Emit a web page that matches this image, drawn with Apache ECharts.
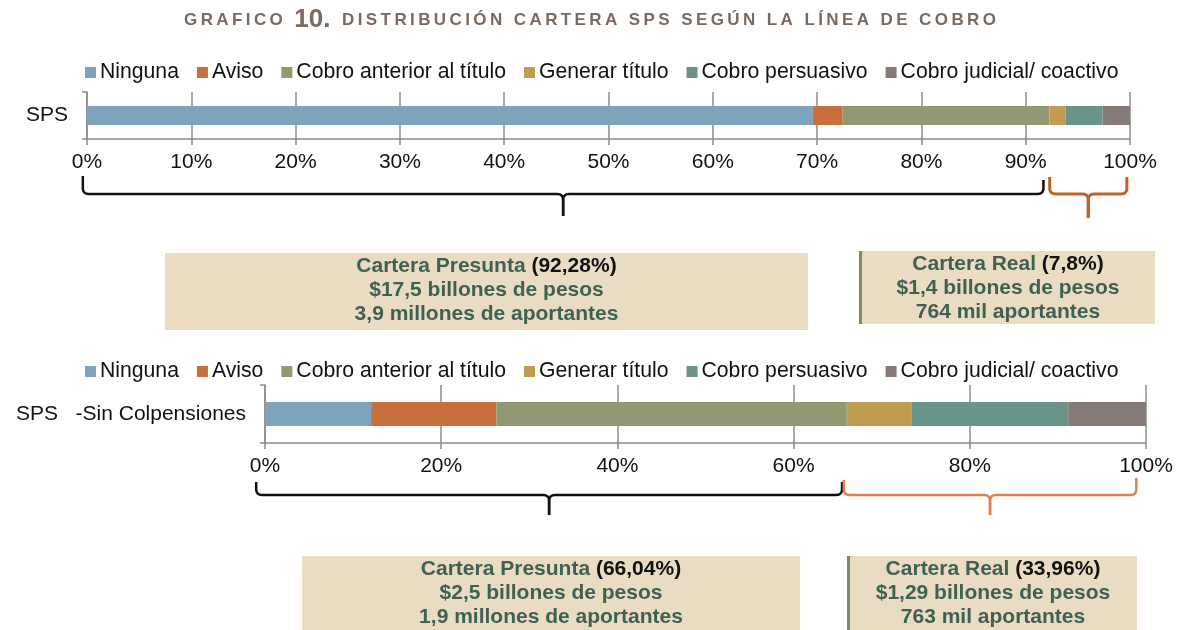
<!DOCTYPE html>
<html><head><meta charset="utf-8">
<script src="https://cdn.jsdelivr.net/npm/echarts@6/dist/echarts.min.js"></script>
<style>html,body{margin:0;padding:0;background:#fff}#c{width:1180px;height:630px}</style>
</head><body><div id="c"></div>
<script>
// ---- data ----
const seriesNames = ['Ninguna', 'Aviso', 'Cobro anterior al título', 'Generar título', 'Cobro persuasivo', 'Cobro judicial/ coactivo'];
const categoriesTop = ['SPS'];
const categoriesBottom = ['SPS   -Sin Colpensiones'];
const valuesTop = [69.6, 2.85, 19.83, 1.55, 3.55, 2.62];
const valuesBottom = [12.04, 14.22, 39.78, 7.39, 17.74, 8.83];
const tickStepTop = 10;
const tickStepBottom = 20;
const boxTop = {
  presunta: ['Cartera Presunta ', '(92,28%)', '$17,5 billones de pesos', '3,9 millones de aportantes'],
  real: ['Cartera Real ', '(7,8%)', '$1,4 billones de pesos', '764 mil aportantes']
};
const boxBottom = {
  presunta: ['Cartera Presunta ', '(66,04%)', '$2,5 billones de pesos', '1,9 millones de aportantes'],
  real: ['Cartera Real ', '(33,96%)', '$1,29 billones de pesos', '763 mil aportantes']
};
const titleParts = ['GRAFICO ', '10.', ' DISTRIBUCIÓN CARTERA SPS SEGÚN LA LÍNEA DE COBRO'];

// ---- styles ----
const colors = ['#7fa2bd', '#c8703b', '#929870', '#c09c50', '#6a9489', '#877b7a'];
const FONT = '"Liberation Sans", Arial, sans-serif';
const textGreen = '#3f6152';
const boxFill = '#eadcc2';
const FS = 21;

const chart = echarts.init(document.getElementById('c'), null, {renderer: 'canvas'});

function spaced(s) { return s.split('').join('\u2009'); }

function xAxisCfg(grid, step) {
  return {
    type: 'value', gridIndex: grid, min: 0, max: 100, interval: step,
    axisLabel: {formatter: '{value}%', color: '#111', fontSize: FS, fontFamily: FONT, margin: 13},
    axisLine: {show: true, lineStyle: {color: '#8c8c8c', width: 1.5}},
    axisTick: {show: true, length: 6, lineStyle: {color: '#8c8c8c', width: 1.5}},
    splitLine: {show: true, lineStyle: {color: '#8c8c8c', width: 1.5}}
  };
}
function yAxisCfg(grid, cats) {
  return {
    type: 'category', gridIndex: grid, data: cats,
    axisLabel: {color: '#111', fontSize: FS, fontFamily: FONT, margin: 19},
    axisLine: {show: true, lineStyle: {color: '#8c8c8c', width: 1.5}},
    axisTick: {show: true, length: 5, lineStyle: {color: '#8c8c8c', width: 1.5}}
  };
}
const series = [];
seriesNames.forEach((n, i) => {
  series.push({name: n, type: 'bar', stack: 'top', xAxisIndex: 0, yAxisIndex: 0, barWidth: 19,
    itemStyle: {color: colors[i]}, data: [valuesTop[i]], animation: false});
});
seriesNames.forEach((n, i) => {
  series.push({name: n, type: 'bar', stack: 'bottom', xAxisIndex: 1, yAxisIndex: 1, barWidth: 24,
    itemStyle: {color: colors[i]}, data: [valuesBottom[i]], animation: false});
});
const legendCfg = (top) => ({
  data: seriesNames, top: top, left: 85, padding: 0, itemWidth: 11, itemHeight: 11, itemGap: 18,
  icon: 'rect', textStyle: {fontSize: 21.2, fontFamily: FONT, color: '#111', padding: [0, 0, 0, -1]}
});

chart.setOption({
  animation: false,
  color: colors,
  title: {
    text: '{a|' + spaced(titleParts[0]) + '\u2009}{b|' + titleParts[1] + '}{a|\u2009' + spaced(titleParts[2]) + '}',
    left: 'center', top: 2,
    textStyle: {rich: {
      a: {fontSize: 17, fontWeight: 'bold', color: '#7b6a60', fontFamily: FONT, verticalAlign: 'bottom', height: 26},
      b: {fontSize: 26, fontWeight: 'bold', color: '#7b6a60', fontFamily: FONT, verticalAlign: 'bottom', height: 26}
    }}
  },
  legend: [legendCfg(62), legendCfg(361)],
  grid: [
    {left: 87, right: 50, top: 92, height: 47},
    {left: 265, right: 34, top: 385, height: 58}
  ],
  xAxis: [xAxisCfg(0, tickStepTop), xAxisCfg(1, tickStepBottom)],
  yAxis: [yAxisCfg(0, categoriesTop), yAxisCfg(1, categoriesBottom)],
  series: series
});

// ---- annotations: braces + boxes ----
function px(axis, v) { return chart.convertToPixel({xAxisIndex: axis}, v); }
function quad(p0, p1, p2, n) {
  const pts = [];
  for (let i = 1; i <= n; i++) {
    const t = i / n, u = 1 - t;
    pts.push([u * u * p0[0] + 2 * u * t * p1[0] + t * t * p2[0], u * u * p0[1] + 2 * u * t * p1[1] + t * t * p2[1]]);
  }
  return pts;
}
function brace(x1, x2, yTop1, yTop2, yH, yTip, color, w) {
  const cx = (x1 + x2) / 2, r = 6;
  const left = [[x1, yTop1], [x1, yH - r]]
    .concat(quad([x1, yH - r], [x1, yH], [x1 + r, yH], 6))
    .concat([[cx - r, yH]])
    .concat(quad([cx - r, yH], [cx, yH], [cx, yH + r], 6))
    .concat([[cx, yTip]]);
  const right = [[x2, yTop2], [x2, yH - r]]
    .concat(quad([x2, yH - r], [x2, yH], [x2 - r, yH], 6))
    .concat([[cx + r, yH]])
    .concat(quad([cx + r, yH], [cx, yH], [cx, yH + r], 6))
    .concat([[cx, yTip]]);
  return [
    {type: 'polyline', shape: {points: left}, style: {fill: null, stroke: color, lineWidth: w, lineJoin: 'round'}, z: 10},
    {type: 'polyline', shape: {points: right}, style: {fill: null, stroke: color, lineWidth: w, lineJoin: 'round'}, z: 10}
  ];
}
function box(x1, x2, y1, y2, lines, border) {
  const els = [{type: 'rect', shape: {x: x1, y: y1, width: x2 - x1, height: y2 - y1}, style: {fill: boxFill}, z: 5}];
  if (border) els.push({type: 'rect', shape: {x: x1, y: y1, width: 3, height: y2 - y1}, style: {fill: '#7e8a5c'}, z: 6});
  const cx = (x1 + x2) / 2 + (border ? 1 : 0);
  const rich = {
    g: {fontSize: FS, fontWeight: 'bold', fill: textGreen, fontFamily: FONT},
    k: {fontSize: FS, fontWeight: 'bold', fill: '#111', fontFamily: FONT}
  };
  const txt = ['{g|' + lines[0] + '}{k|' + lines[1] + '}', '{g|' + lines[2] + '}', '{g|' + lines[3] + '}'];
  txt.forEach((t, i) => {
    els.push({type: 'text', x: cx, y: y1 + 13 + i * 24, z: 7,
      style: {text: t, rich: rich, align: 'center', verticalAlign: 'middle', font: 'bold ' + FS + 'px ' + FONT}});
  });
  return els;
}
const g = [];
g.push(...brace(px(0, -0.4), px(0, 91.7), 176, 180, 194, 216, '#111', 2.5));
g.push(...brace(px(0, 92.3), px(0, 99.7), 177, 177, 194, 218, '#bf622c', 3));
g.push(...brace(px(1, -1.0), px(1, 65.5), 482, 482, 495, 515, '#111', 2.5));
g.push(...brace(px(1, 65.7), px(1, 98.9), 480, 478, 495, 515, '#e0824c', 2.5));
g.push(...box(165, 808, 253, 330, boxTop.presunta, false));
g.push(...box(859, 1155, 251, 324, boxTop.real, true));
g.push(...box(302, 800, 556, 640, boxBottom.presunta, false));
g.push(...box(847, 1137, 556, 640, boxBottom.real, true));
chart.setOption({graphic: g});
</script>
</body></html>
